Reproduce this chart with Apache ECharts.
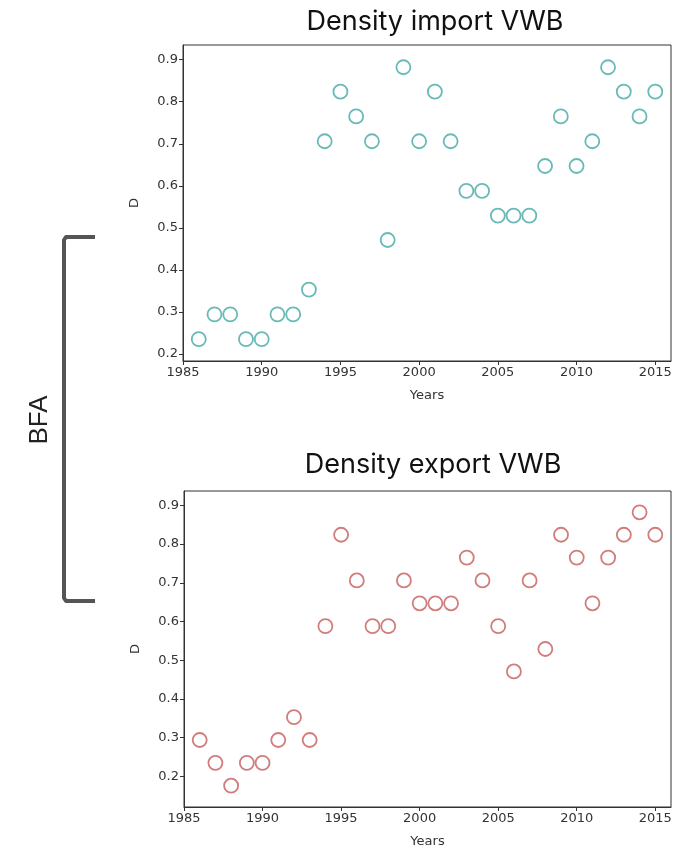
<!DOCTYPE html>
<html>
<head>
<meta charset="utf-8">
<script src="https://cdn.jsdelivr.net/npm/echarts@6/dist/echarts.min.js"></script>
<style>
  html, body { margin: 0; padding: 0; background: #fff; }
  #chart { width: 677px; height: 852px; }
</style>
</head>
<body>
<div id="chart"></div>
<script>
  // years on the x axis (same for both panels)
  const years = [
    1986, 1987, 1988, 1989, 1990, 1991, 1992, 1993, 1994, 1995,
    1996, 1997, 1998, 1999, 2000, 2001, 2002, 2003, 2004, 2005,
    2006, 2007, 2008, 2009, 2010, 2011, 2012, 2013, 2014, 2015,
  ];

  // density of import VWB network
  const importD = [
    0.235, 0.294, 0.294, 0.235, 0.235, 0.294, 0.294, 0.353, 0.706, 0.824,
    0.765, 0.706, 0.471, 0.882, 0.706, 0.824, 0.706, 0.588, 0.588, 0.529,
    0.529, 0.529, 0.647, 0.765, 0.647, 0.706, 0.882, 0.824, 0.765, 0.824,
  ];

  // density of export VWB network
  const exportD = [
    0.294, 0.235, 0.176, 0.235, 0.235, 0.294, 0.353, 0.294, 0.588, 0.824,
    0.706, 0.588, 0.588, 0.706, 0.647, 0.647, 0.647, 0.765, 0.706, 0.588,
    0.471, 0.706, 0.529, 0.824, 0.765, 0.647, 0.765, 0.824, 0.882, 0.824,
  ];

  const xTicks = [1985, 1990, 1995, 2000, 2005, 2010, 2015];
  const yTicks = [0.2, 0.3, 0.4, 0.5, 0.6, 0.7, 0.8, 0.9];

  const chart = echarts.init(document.getElementById('chart'));

  const labelStyle = { color: '#333', fontSize: 13, fontFamily: 'DejaVu Sans' };
  const nameStyle = { color: '#333', fontSize: 13, fontFamily: 'DejaVu Sans' };

  const xAxis = (gridIndex) => ({
    type: 'value',
    gridIndex,
    min: 1985,
    max: 2016,
    name: 'Years',
    nameLocation: 'middle',
    nameGap: 28,
    nameTextStyle: nameStyle,
    axisLine: { show: true, lineStyle: { color: '#333', width: 1 } },
    axisTick: { show: true, length: 4, customValues: xTicks, lineStyle: { color: '#333' } },
    axisLabel: { ...labelStyle, margin: 5, customValues: xTicks, formatter: (v) => String(v) },
    splitLine: { show: false },
  });

  const yAxis = (gridIndex, min, max) => ({
    type: 'value',
    gridIndex,
    min,
    max,
    name: 'D',
    nameLocation: 'middle',
    nameRotate: 90,
    nameGap: 42,
    nameTextStyle: nameStyle,
    axisLine: { show: true, lineStyle: { color: '#333', width: 1 } },
    axisTick: { show: true, length: 4, customValues: yTicks, lineStyle: { color: '#333' } },
    axisLabel: {
      ...labelStyle,
      margin: 5,
      customValues: yTicks,
      formatter: (v) => v.toFixed(1),
    },
    splitLine: { show: false },
  });

  const scatter = (idx, values, color) => ({
    type: 'scatter',
    xAxisIndex: idx,
    yAxisIndex: idx,
    data: years.map((y, i) => [y, values[i]]),
    symbol: 'circle',
    symbolSize: 14,
    itemStyle: { color: 'transparent', borderColor: color, borderWidth: 1.8 },
    emphasis: { disabled: true },
  });

  const titleStyle = { fontFamily: 'Inter', fontSize: 27, fontWeight: 'normal', color: '#111' };

  const option = {
    animation: false,
    backgroundColor: '#fff',
    title: [
      { text: 'Density import VWB', left: 430, textAlign: 'center', top: 3, textStyle: titleStyle },
      { text: 'Density export VWB', left: 428, textAlign: 'center', top: 446, textStyle: titleStyle },
    ],
    grid: [
      { left: 183, right: 6, top: 45, height: 316, show: true, borderColor: '#333', borderWidth: 1 },
      { left: 184, right: 6, top: 491, height: 316, show: true, borderColor: '#333', borderWidth: 1 },
    ],
    xAxis: [xAxis(0), xAxis(1)],
    yAxis: [yAxis(0, 0.183, 0.935), yAxis(1, 0.121, 0.937)],
    series: [
      scatter(0, importD, '#43a9a5'),
      scatter(1, exportD, '#c45c5a'),
    ],
    graphic: [
      {
        type: 'polyline',
        shape: { points: [[95, 237], [66, 237], [64, 240], [64, 598], [66, 601], [95, 601]] },
        style: { stroke: '#555', lineWidth: 4, fill: 'none', lineJoin: 'round' },
      },
      {
        type: 'text',
        x: 40,
        y: 420,
        rotation: Math.PI / 2,
        style: {
          text: 'BFA',
          fontSize: 26,
          fontFamily: 'Liberation Sans',
          fill: '#222',
          textAlign: 'center',
          textVerticalAlign: 'middle',
        },
      },
    ],
  };

  chart.setOption(option);
</script>
</body>
</html>
